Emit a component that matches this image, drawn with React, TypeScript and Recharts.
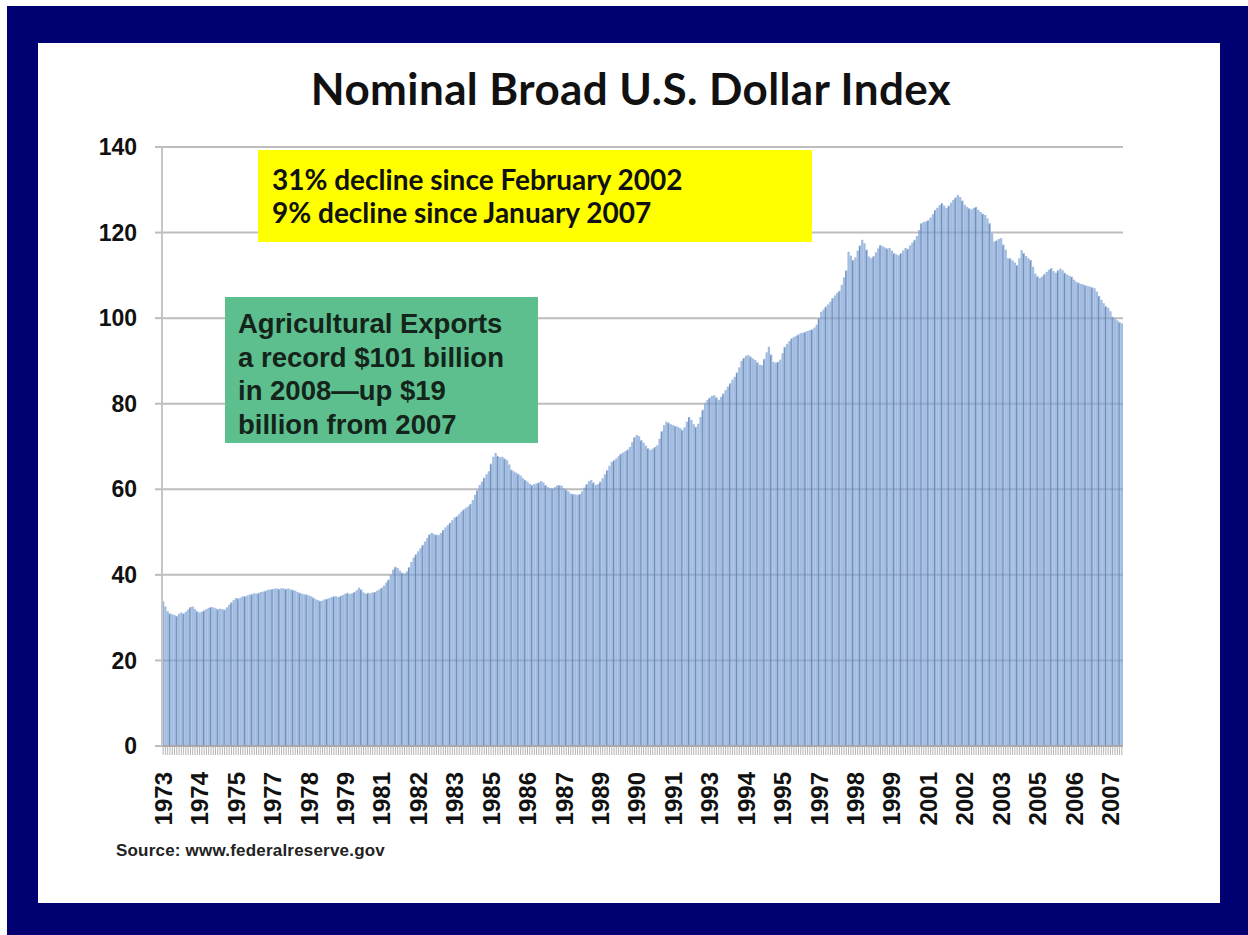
import { Bar, BarChart, CartesianGrid, XAxis, YAxis } from "recharts";

// Monthly index values (Jan 1973 - Feb 2008)
const index1970s = [
  33.8, 32.6, 31.5, 31.0, 30.8, 30.6, 30.4, 30.9, 31.2, 31.0, 31.4, 31.9,
  32.5, 32.6, 32.0, 31.5, 31.2, 31.4, 31.7, 32.0, 32.3, 32.5, 32.4, 32.2,
  32.0, 32.1, 32.0, 31.9, 32.4, 33.0, 33.6, 34.1, 34.6, 34.5, 34.7, 35.0,
  35.0, 35.2, 35.4, 35.5, 35.7, 35.6, 35.8, 36.0, 36.1, 36.3, 36.5, 36.6,
  36.7, 36.8, 36.8, 36.7, 36.9, 36.8, 36.7, 36.8, 36.6, 36.5, 36.3, 36.0,
  35.8, 35.6, 35.5, 35.4, 35.2, 35.0, 34.7, 34.3, 34.1, 33.9, 34.0, 34.3,
  34.4, 34.6, 34.8, 35.0, 35.0, 34.8, 35.1, 35.3, 35.6, 35.8, 35.5, 35.7,
];
const index1980s = [
  36.0, 36.4, 37.0, 36.6, 35.9, 35.6, 35.8, 35.7, 35.9, 36.0, 36.3, 36.6,
  37.0, 37.5, 38.2, 38.9, 40.0, 41.2, 41.9, 41.6, 41.0, 40.5, 40.3, 40.8,
  41.8, 43.0, 44.0, 44.8, 45.5, 46.2, 47.0, 47.8, 48.6, 49.5, 49.8, 49.5,
  49.4, 49.3, 49.8, 50.5, 51.1, 51.6, 52.2, 52.8, 53.4, 53.7, 54.2, 54.8,
  55.3, 55.7, 56.0, 56.6, 57.5, 58.7, 59.8, 61.0, 61.8, 62.7, 63.5, 64.2,
  66.0, 67.6, 68.5, 67.8, 67.5, 67.6, 67.2, 66.8, 65.8, 64.6, 64.2, 63.9,
  63.6, 63.2, 62.6, 62.2, 61.8, 61.3, 61.0, 61.2, 61.4, 61.6, 61.9, 61.6,
  61.0, 60.5, 60.3, 60.2, 60.5, 60.9, 61.0, 60.8, 60.2, 59.9, 59.5, 59.0,
  58.9, 58.8, 58.7, 58.9, 59.5, 60.4, 61.2, 61.9, 62.2, 61.6, 61.0, 61.2,
  61.8, 62.6, 63.5, 64.5, 65.5, 66.4, 66.8, 67.2, 67.7, 68.3, 68.6, 68.9,
];
const index1990s = [
  69.3, 69.9, 71.0, 72.2, 72.7, 72.4, 71.5, 70.9, 70.2, 69.6, 69.2, 69.5,
  69.9, 70.3, 71.8, 73.6, 75.0, 75.8, 75.6, 75.2, 75.0, 74.8, 74.6, 74.3,
  73.9, 74.5, 75.8, 76.9, 76.2, 75.2, 74.6, 75.3, 76.9, 78.6, 80.2, 80.9,
  81.4, 81.8, 82.0, 81.5, 80.9, 81.6, 82.4, 83.2, 84.0, 84.8, 85.6, 86.3,
  87.3, 88.5, 90.0, 90.7, 91.2, 91.4, 91.0, 90.6, 90.2, 89.7, 89.1, 89.0,
  90.5, 92.0, 93.3, 91.5, 89.8, 89.6, 89.8, 90.3, 91.8, 93.3, 94.0, 94.6,
  95.3, 95.6, 95.9, 96.2, 96.5, 96.6, 96.8, 97.0, 97.2, 97.4, 97.8, 98.5,
  100.0, 101.5, 102.0, 102.7, 103.2, 103.8, 104.7, 105.3, 105.9, 106.4, 107.8, 109.5,
  111.2, 115.5, 114.6, 113.6, 114.2, 115.8, 117.0, 118.3, 117.5, 116.0, 114.4, 114.0,
  114.5, 115.4, 116.3, 117.1, 116.8, 116.5, 116.3, 116.4, 115.8, 115.2, 114.9, 114.7,
];
const index2000s = [
  115.2, 115.8, 116.4, 116.2, 117.0, 117.6, 118.3, 119.2, 120.6, 122.2, 122.5, 122.6,
  122.9, 123.5, 124.3, 125.3, 125.8, 126.4, 126.9, 126.3, 125.7, 126.3, 127.0, 127.6,
  128.2, 128.8, 128.3, 127.5, 126.5, 126.0, 125.7, 125.4, 125.8, 126.0, 125.3, 124.8,
  124.4, 124.1, 123.3, 122.2, 119.8, 117.9, 118.2, 118.5, 118.7, 117.2, 116.0, 114.0,
  114.0, 113.5, 113.0, 112.4, 114.0, 115.9, 115.2, 114.5, 114.0, 113.6, 112.0, 110.4,
  109.8, 109.4, 109.7, 110.3, 110.8, 111.3, 111.7, 111.0, 110.6, 111.2, 111.6, 111.2,
  110.6, 110.2, 109.9, 109.7, 109.0, 108.5, 108.3, 108.0, 107.9, 107.7, 107.5, 107.4,
  107.2, 107.0, 106.2, 105.2, 104.3, 103.5, 102.8, 102.4, 101.6, 100.3, 99.9, 99.5,
  99.1, 98.8,
];

const yTicks = [0, 20, 40, 60, 80, 100, 120, 140];
const labelEvery = 16;
const titleText = "Nominal Broad U.S. Dollar Index";
const yellowLines = ["31% decline since February 2002", "9% decline since January 2007"];
const greenLines = [
  "Agricultural Exports",
  "a record $101 billion",
  "in 2008\u2014up $19",
  "billion from 2007",
];
const sourceText = "Source: www.federalreserve.gov";

const values = [...index1970s, ...index1980s, ...index1990s, ...index2000s];
const months = values.map(
  (_, i) => `${1973 + Math.floor(i / 12)}-${String((i % 12) + 1).padStart(2, "0")}`
);
const data = months.map((month, i) => ({ month, value: values[i] }));

const CHART_W = 1248;
const CHART_H = 935;
const MARGIN = { top: 147, right: 125, left: 102, bottom: 89 };
const Y_W = 60;
const BAND = (CHART_W - MARGIN.left - MARGIN.right - Y_W) / values.length;

function Column(props: any) {
  const { x, y, height, index } = props;
  if (!height) return null;
  return (
    <g>
      <rect x={x} y={y} width={BAND} height={height} fill="#7ea3d6" fillOpacity={0.72} />
      {index % 3 === 0 && (
        <rect x={x} y={y + 1} width={1.2} height={height - 1} fill="#53729f" fillOpacity={0.6} />
      )}
    </g>
  );
}

function YearTick(props: any) {
  const { x, y, payload, index } = props;
  const i = payload?.index ?? index;
  if (i % labelEvery !== 0) return <g />;
  return (
    <text
      transform={`translate(${x},${y + 17}) rotate(-90)`}
      textAnchor="end"
      dy="0.36em"
      fontFamily="Liberation Sans, Arial, sans-serif"
      fontWeight={700}
      fontSize={24}
      fill="#111"
    >
      {String(payload.value).slice(0, 4)}
    </text>
  );
}

export default function App() {
  return (
    <div style={{ position: "absolute", left: 0, top: 0, width: CHART_W, height: CHART_H, background: "#fff" }}>
      <div style={{ position: "absolute", left: 7, top: 6, right: 0, bottom: 0, background: "#000072" }} />
      <div style={{ position: "absolute", left: 38, top: 43, width: 1182, height: 860, background: "#fff" }} />
      <div
        style={{
          position: "absolute",
          left: 0,
          width: 1262,
          top: 62,
          textAlign: "center",
          fontFamily: "Lato, sans-serif",
          fontWeight: 700,
          fontSize: 44,
          letterSpacing: 0.4,
          color: "#111",
        }}
      >
        {titleText}
      </div>
      <div style={{ position: "absolute", left: 0, top: 0 }}>
        <BarChart width={CHART_W} height={CHART_H} data={data} margin={MARGIN} barCategoryGap={0} barGap={0}>
          <CartesianGrid vertical={false} stroke="#bdbdbd" strokeWidth={2} />
          <XAxis
            dataKey="month"
            interval={0}
            tickSize={9}
            tickMargin={0}
            height={100}
            tickLine={{ stroke: "#b4b4b4" }}
            axisLine={{ stroke: "#a6a6a6", strokeWidth: 2 }}
            tick={<YearTick />}
          />
          <YAxis
            width={Y_W}
            domain={[0, 140]}
            ticks={yTicks}
            interval={0}
            tickSize={7}
            tickMargin={18}
            tickLine={{ stroke: "#bdbdbd", strokeWidth: 2 }}
            axisLine={{ stroke: "#c6c6c6", strokeWidth: 2 }}
            tick={{ fontFamily: "Liberation Sans, Arial, sans-serif", fontWeight: 700, fontSize: 23, fill: "#111" }}
          />
          <Bar dataKey="value" shape={<Column />} isAnimationActive={false} />
        </BarChart>
      </div>
      <div
        style={{
          position: "absolute",
          left: 258,
          top: 150,
          width: 554,
          height: 92,
          background: "#ffff00",
          boxSizing: "border-box",
          padding: "13px 0 0 14px",
          fontFamily: "Lato, sans-serif",
          fontWeight: 700,
          fontSize: 28,
          lineHeight: "33px",
          color: "#111",
        }}
      >
        {yellowLines.map((l) => (
          <div key={l}>{l}</div>
        ))}
      </div>
      <div
        style={{
          position: "absolute",
          left: 225,
          top: 297,
          width: 313,
          height: 146,
          background: "#5dbf8e",
          boxSizing: "border-box",
          padding: "10px 0 0 13px",
          fontFamily: "Liberation Sans, Arial, sans-serif",
          fontWeight: 700,
          fontSize: 27.5,
          lineHeight: "33.5px",
          color: "#14241a",
        }}
      >
        {greenLines.map((l) => (
          <div key={l} style={{ whiteSpace: "nowrap" }}>{l}</div>
        ))}
      </div>
      <div
        style={{
          position: "absolute",
          left: 116,
          top: 841,
          fontFamily: "Liberation Sans, Arial, sans-serif",
          fontWeight: 700,
          fontSize: 17,
          letterSpacing: 0.2,
          color: "#222",
        }}
      >
        {sourceText}
      </div>
    </div>
  );
}
